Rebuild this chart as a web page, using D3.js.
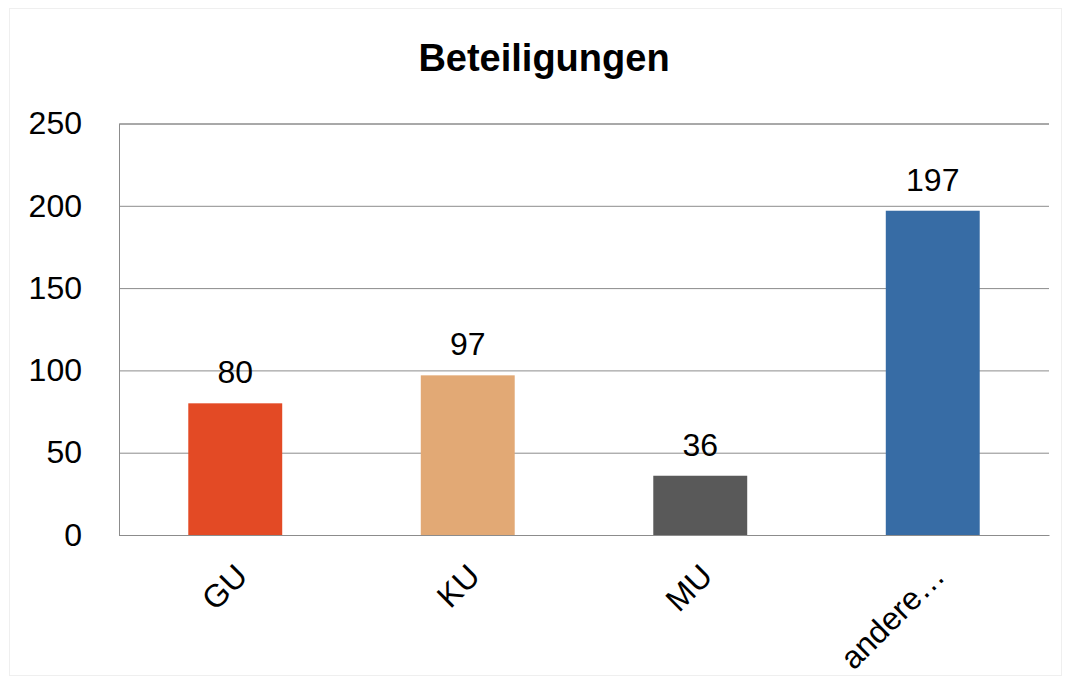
<!DOCTYPE html>
<html><head><meta charset="utf-8">
<script src="https://cdn.jsdelivr.net/npm/d3@7"></script>
<style>body{margin:0;background:#fff}svg{display:block}text{font-family:"Liberation Sans",Arial,sans-serif}</style>
</head><body>
<svg id="c" width="1070" height="684"></svg>
<script>
const title = "Beteiligungen";
const categories = ["GU", "KU", "MU", "andere…"];
const values = [80, 97, 36, 197];
const colors = ["#E34A25", "#E2A975", "#595959", "#376CA5"];
const yTicks = [0, 50, 100, 150, 200, 250];

const svg = d3.select("#c");
const m = {l: 119, r: 1049, t: 123.5, b: 535};

svg.append("rect").attr("x", 9.5).attr("y", 8.5).attr("width", 1052).attr("height", 667)
  .attr("fill", "#fff").attr("stroke", "#efefef");

const x = d3.scaleBand().domain(categories).range([m.l, m.r]).paddingInner(0.596).paddingOuter(0.298);
const y = d3.scaleLinear().domain([0, 250]).range([m.b, m.t]);

svg.append("text").attr("x", 544).attr("y", 71).attr("text-anchor", "middle")
  .attr("font-size", 38).attr("font-weight", "bold").text(title);

// grid
const ya = d3.axisLeft(y).tickValues(yTicks).tickSize(m.l - m.r).tickPadding(37);
const gy = svg.append("g").attr("transform", `translate(${m.l},0)`).call(ya);
gy.select(".domain").attr("stroke", "#8c8c8c");
gy.selectAll(".tick line").attr("stroke", "#8c8c8c").attr("stroke-width", 1);
gy.selectAll(".tick text").attr("font-size", 32).attr("fill", "#000")
  .style("font-family", "Liberation Sans, Arial, sans-serif");

// bars
svg.selectAll("rect.bar").data(values).join("rect").attr("class", "bar")
  .attr("x", (d, i) => x(categories[i])).attr("width", x.bandwidth())
  .attr("y", d => y(d)).attr("height", d => y(0) - y(d))
  .attr("fill", (d, i) => colors[i]);

// value labels
svg.selectAll("text.val").data(values).join("text").attr("class", "val")
  .attr("x", (d, i) => x(categories[i]) + x.bandwidth() / 2).attr("y", d => y(d) - 20)
  .attr("text-anchor", "middle").attr("font-size", 32).text(d => d);

// x axis
const xa = d3.axisBottom(x).tickSize(0).tickPadding(0);
const gx = svg.append("g").attr("transform", `translate(0,${m.b})`).call(xa);
gx.select(".domain").attr("stroke", "#8c8c8c");
gx.selectAll(".tick text").attr("font-size", 32).attr("fill", "#000")
  .style("font-family", "Liberation Sans, Arial, sans-serif")
  .attr("text-anchor", "end").attr("dy", 0)
  .attr("transform", "translate(14,43) rotate(-45)");
</script>
</body></html>
